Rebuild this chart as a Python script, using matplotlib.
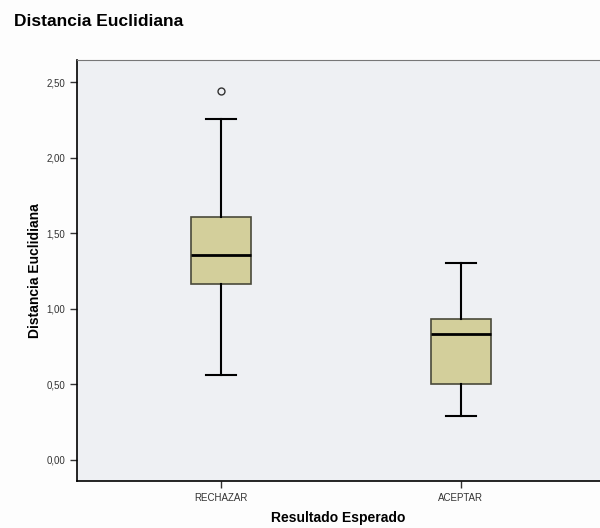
import matplotlib
matplotlib.use("Agg")
import matplotlib.pyplot as plt

plt.rcParams["font.family"] = ["Liberation Sans", "DejaVu Sans"]

# box statistics (comma decimal labels)
categories = ["RECHAZAR", "ACEPTAR"]
whislo = [0.56, 0.29]
q1 = [1.165, 0.50]
med = [1.355, 0.83]
q3 = [1.61, 0.935]
whishi = [2.255, 1.30]
outliers = [[2.44], []]

yticks = [0.0, 0.5, 1.0, 1.5, 2.0, 2.5]

stats = []
for i, name in enumerate(categories):
    stats.append({
        "label": name,
        "whislo": whislo[i],
        "q1": q1[i],
        "med": med[i],
        "q3": q3[i],
        "whishi": whishi[i],
        "fliers": outliers[i],
    })

fig = plt.figure(figsize=(6, 5.28), dpi=100)
fig.patch.set_facecolor("#fdfdfd")
ax = fig.add_axes([0.128, 0.089, 0.872, 0.797])
ax.set_facecolor("#eef0f3")

ax.bxp(
    stats,
    positions=[0, 1],
    widths=0.25,
    patch_artist=True,
    boxprops=dict(facecolor="#d3cf9b", edgecolor="#4a4a3a", linewidth=1.2),
    medianprops=dict(color="black", linewidth=2),
    whiskerprops=dict(color="black", linewidth=1.5),
    capprops=dict(color="black", linewidth=1.5),
    capwidths=0.125,
    flierprops=dict(marker="o", markerfacecolor="none", markeredgecolor="#333333",
                    markersize=5, markeredgewidth=1),
)

ax.set_xlim(-0.6, 1.58)
ax.set_ylim(-0.14, 2.645)
ax.set_yticks(yticks)
ax.set_yticklabels([f"{v:.2f}".replace(".", ",") for v in yticks])
ax.set_xticks([0, 1])
ax.set_xticklabels(categories)
ax.tick_params(axis="both", labelsize=7, colors="#333333", length=5, width=1)

for side in ["left", "bottom"]:
    ax.spines[side].set_color("black")
    ax.spines[side].set_linewidth(1.2)
ax.spines["top"].set_color("#777777")
ax.spines["right"].set_visible(False)

ax.set_ylabel("Distancia Euclidiana", fontsize=10, fontweight="bold", labelpad=3)
ax.set_xlabel("Resultado Esperado", fontsize=10, fontweight="bold", labelpad=6)
fig.text(0.023, 0.96, "Distancia Euclidiana", fontsize=12.5, fontweight="bold",
         ha="left", va="center")

fig.savefig("out.png", dpi=100, facecolor=fig.get_facecolor())
